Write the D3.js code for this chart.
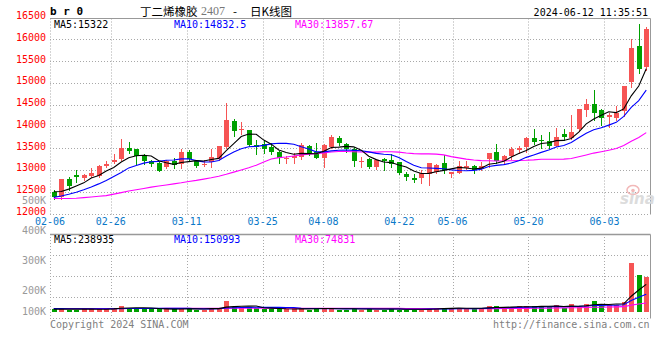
<!DOCTYPE html>
<html><head><meta charset="utf-8">
<script src="https://cdn.jsdelivr.net/npm/d3@7"></script>
<style>body{margin:0;background:#fff}svg{display:block}</style>
</head><body>
<svg id="c" width="660" height="360"></svg>
<script>
// ---------- data ----------
const dates = ["02-06","02-07","02-08","02-19","02-20","02-21","02-22","02-23","02-26","02-27","02-28","02-29",
"03-01","03-04","03-05","03-06","03-07","03-08","03-11","03-12","03-13","03-14","03-15","03-18","03-19","03-20","03-21","03-22","03-25","03-26","03-27","03-28","03-29",
"04-01","04-02","04-03","04-08","04-09","04-10","04-11","04-12","04-15","04-16","04-17","04-18","04-19","04-22","04-23","04-24","04-25","04-26","04-29","04-30",
"05-06","05-07","05-08","05-09","05-10","05-13","05-14","05-15","05-16","05-17","05-20","05-21","05-22","05-23","05-24","05-27","05-28","05-29","05-30","05-31",
"06-03","06-04","06-05","06-06","06-07","06-11","06-12"];
const open = [12485,12377,12792,12892,12815,12869,12869,13084,13177,13254,13507,13484,13315,13200,13161,13069,13200,13146,13423,13200,
13123,13177,13254,13530,14123,13930,13907,13580,13590,13535,13420,13270,13268,13300,13550,13420,13268,13520,13728,13592,
13477,13185,13246,13061,13246,13230,13184,12908,12808,12823,12908,12961,13160,12915,12935,13055,13090,13020,13250,13412,
13195,13310,13462,13520,13738,13696,13658,13559,13833,13734,13940,14382,14512,14382,14215,14192,14359,15030,15845,15373];
const high = [12546,12800,12838,13008,12900,13046,13123,13200,13369,13700,13646,13484,13369,13238,13177,13238,13276,13484,13469,13223,
13238,13484,13561,14546,14176,14107,13907,13690,13660,13612,13425,13310,13380,13610,13575,13615,13600,13805,13780,13615,
13538,13307,13269,13246,13269,13361,13192,12961,12908,13000,13169,13138,13345,12960,13212,13215,13112,13190,13395,13600,
13345,13538,13550,13752,13936,13811,13864,13963,13940,14253,14400,14634,14839,14397,14306,14474,14938,15998,16348,16287];
const low = [12331,12331,12546,12715,12780,12838,12838,13069,13161,13238,13392,13146,13146,13084,12969,13046,13046,13038,13200,13069,
13100,13069,13238,13510,13777,13815,13546,13358,13390,13365,13167,13167,13167,13250,13345,13267,13060,13500,13575,13423,
13100,13077,13038,13031,13000,13077,12908,12769,12731,12708,12654,12938,12930,12845,12921,13030,12925,13005,13075,13170,
13165,13240,13395,13420,13588,13506,13506,13544,13681,13711,13887,14230,14154,14039,13986,14138,14245,14915,15236,15297];
const close = [12377,12792,12623,12831,12892,12931,13084,13146,13238,13507,13430,13315,13200,13146,12969,13200,13123,13415,13254,13084,
13146,13300,13546,14146,13892,13946,13584,13520,13490,13420,13285,13285,13330,13580,13390,13268,13580,13750,13628,13477,
13215,13200,13061,13230,13215,13138,12923,12831,12775,12923,13154,13115,12990,12945,13085,13090,13000,13085,13390,13195,
13325,13478,13508,13730,13652,13666,13559,13757,13757,13872,14397,14512,14306,14192,14268,14306,14938,15807,15312,16226];
const ma5 = [12500,12505,12560,12630,12703,12814,12872,12977,13058,13181,13281,13327,13338,13320,13212,13166,13128,13171,13192,13215,
13204,13240,13266,13444,13606,13766,13823,13818,13686,13592,13460,13400,13362,13380,13374,13371,13430,13514,13523,13541,
13530,13454,13316,13237,13184,13169,13113,13067,12976,12918,12921,12960,12991,13025,13058,13045,13022,13041,13130,13152,
13199,13295,13379,13447,13539,13607,13623,13673,13678,13722,13868,14059,14169,14256,14335,14317,14402,14702,14926,15322];
const ma10 = [12370,12400,12440,12490,12545,12610,12680,12760,12850,12942,13047,13100,13157,13189,13197,13224,13227,13254,13256,13214,
13185,13184,13218,13318,13411,13485,13531,13542,13565,13599,13613,13611,13590,13533,13483,13415,13415,13438,13452,13457,
13450,13442,13415,13380,13362,13349,13284,13192,13107,13051,13045,13037,13029,13001,12988,12983,12991,13016,13078,13105,
13122,13158,13210,13289,13345,13403,13459,13526,13563,13630,13738,13841,13921,13967,14029,14093,14231,14436,14591,14832.5];
const ma30 = [12346,12346,12346,12350,12365,12380,12395,12410,12445,12480,12515,12545,12575,12605,12630,12655,12680,12705,12735,12760,
12790,12820,12855,12900,12950,13000,13050,13110,13180,13252,13282,13298,13322,13347,13363,13375,13391,13411,13424,13423,
13416,13412,13408,13410,13419,13417,13410,13390,13375,13369,13369,13363,13345,13305,13278,13249,13230,13215,13212,13204,
13206,13212,13218,13223,13232,13245,13244,13245,13249,13262,13302,13345,13387,13419,13454,13493,13560,13659,13744,13857.67];
const volume = [21000,29000,17000,17000,21000,21000,21000,21000,33000,46000,33000,33000,21000,21000,21000,21000,21000,29000,29000,17000,
17000,35000,29000,95000,40000,35000,37000,35000,21000,21000,21000,21000,29000,28000,17000,28000,28000,28000,17000,17000,
28000,17000,28000,17000,17000,28000,17000,17000,17000,17000,33000,28000,33000,28000,28000,28000,28000,28000,46000,46000,
33000,40000,46000,46000,46000,46000,46000,53000,28000,62000,42000,70000,92000,52000,55000,60000,80000,425000,325000,305000];
const volMa5 = [21000,21000,21000,21000,21000,21000,19400,20200,23400,28400,30800,33200,33200,30800,25800,23400,21000,22600,24200,23400,
22600,25400,25400,38600,43200,46800,47200,48400,33600,29800,27000,23800,22600,24000,23200,24600,26000,25800,23600,23600,
23600,21400,21400,21400,21400,21400,21400,19200,19200,19200,20200,22400,25600,27800,30000,29000,29000,28000,31600,35200,
36200,38600,42200,42200,42200,44800,46000,47400,43800,47000,46200,51000,58800,63600,62200,65800,67800,134400,189000,238935];
const volMa10 = [25000,25000,24000,24000,24000,24000,24000,24000,24000,24700,25900,26300,26700,27100,27100,27100,27100,27900,27500,24600,
23000,23200,24000,31400,33300,34700,36300,36900,36100,36500,36900,35500,35500,28800,26500,25800,24900,24200,23800,23400,
24100,23700,23600,22500,22500,22500,21400,20300,20300,20300,20800,21900,22400,23500,24600,24600,25700,26800,29700,32600,
32600,33800,35100,36900,38700,40500,42300,44800,43000,44600,45500,48500,53100,53700,54600,56000,59400,96600,126300,150993];
const volMa30 = [27000,27000,27000,27000,27000,27000,27000,27000,27000,27000,27000,27000,27000,27000,27000,27500,27500,27500,27500,27500,
27500,27800,28000,28500,28500,28600,28600,28600,28600,28600,28600,28500,28500,28400,28400,28400,28300,28300,28200,28200,
28000,27900,27800,27600,27500,27400,27200,27000,26900,26700,26600,26500,26300,26200,26000,25900,25700,25600,25500,25400,
25800,26400,27100,27800,28500,29200,30000,30800,31500,32500,33000,34700,36900,38000,39300,40400,42500,56100,66300,74831];
const priceTicks = [12000,12500,13000,13500,14000,14500,15000,15500,16000,16500];
const dateTicks = ["02-06","02-26","03-11","03-25","04-08","04-22","05-06","05-20","06-03"];
const volTicks = [500000,400000,300000,200000,100000];
const volGridSteps = [1,2,3];

// ---------- layout ----------
const L = 50, R = 650, T = 17.5, B = 213.5;
const VT = 234, VB = 318, VBASE = 311.5;
const UP = "#f65454", DOWN = "#00a000";
const MONO = "DejaVu Sans Mono";
const GRID = "#a8a8a8";
const svg = d3.select("#c");
const crisp = v => Math.round(v) + 0.5;

const x = d3.scaleBand().domain(dates).range([L, R]).paddingInner(0.33).paddingOuter(0.165);
const xGrid = d3.scaleLinear().domain([0, dates.length - 1]).range([L, R]);
const yP = d3.scaleLinear().domain([12000, 16500]).range([B, T]);
const yV = d3.scaleLinear().domain([0, 500000]).range([VBASE, VBASE - 500000 / 8800]);
const yVLabel = d3.scaleLinear().domain([100000, 500000]).range([320, 200]);
const yVGrid = d3.scaleLinear().domain([0, 4]).range([VB, VT]);
const cx = i => Math.round(x(dates[i]) + x.bandwidth() / 2);
const isUp = i => close[i] >= open[i];

// ---------- grid ----------
const gGrid = svg.append("g").attr("stroke", GRID).attr("stroke-dasharray", "1,2").attr("fill", "none");
priceTicks.filter(p => p > 12000 && p < 16500).forEach(p => {
  gGrid.append("line").attr("x1", L).attr("x2", R).attr("y1", crisp(yP(p))).attr("y2", crisp(yP(p)));
});
dateTicks.forEach(d => {
  const gx = crisp(xGrid(dates.indexOf(d)));
  gGrid.append("line").attr("x1", gx).attr("x2", gx).attr("y1", crisp(T)).attr("y2", crisp(B));
  gGrid.append("line").attr("x1", gx).attr("x2", gx).attr("y1", VT).attr("y2", VB);
});
volGridSteps.forEach(s => {
  gGrid.append("line").attr("x1", L).attr("x2", R).attr("y1", crisp(yVGrid(s))).attr("y2", crisp(yVGrid(s)));
});
gGrid.append("line").attr("x1", L).attr("x2", R).attr("y1", crisp(B)).attr("y2", crisp(B));
gGrid.append("line").attr("x1", L).attr("x2", R).attr("y1", crisp(VB)).attr("y2", crisp(VB));

const gB = svg.append("g").attr("stroke", "#999").attr("fill", "none");
gB.append("line").attr("x1", L).attr("x2", R + 0.5).attr("y1", crisp(T)).attr("y2", crisp(T));
gB.append("line").attr("x1", crisp(R)).attr("x2", crisp(R)).attr("y1", crisp(T)).attr("y2", crisp(B));
gB.append("line").attr("x1", L).attr("x2", R + 0.5).attr("y1", crisp(VT)).attr("y2", crisp(VT)).attr("stroke-width", 1.5);
gB.append("line").attr("x1", crisp(R)).attr("x2", crisp(R)).attr("y1", crisp(VT)).attr("y2", crisp(VB));

// watermark
const wm = svg.append("g");
wm.append("ellipse").attr("cx", 633).attr("cy", 190).attr("rx", 6).attr("ry", 4.5)
  .attr("fill", "none").attr("stroke", "#f2b8b8").attr("stroke-width", 1.5);
wm.append("circle").attr("cx", 633).attr("cy", 190.5).attr("r", 1.8).attr("fill", "#f2b8b8");
wm.append("text").attr("x", 620).attr("y", 204).attr("font-family", "DejaVu Sans").attr("font-style", "italic")
  .attr("font-weight", "bold").attr("font-size", 15).attr("fill", "#dcdcdc").text("sina");

// ---------- candles ----------
svg.append("clipPath").attr("id", "clipMain").append("rect").attr("x", L + 0.5).attr("y", T).attr("width", R - L - 0.5).attr("height", B - T);
const gC = svg.append("g").attr("clip-path", "url(#clipMain)");
dates.forEach((d, i) => {
  const col = isUp(i) ? UP : DOWN;
  const c = cx(i);
  gC.append("line").attr("x1", c + 0.5).attr("x2", c + 0.5)
    .attr("y1", Math.round(yP(high[i]))).attr("y2", Math.round(yP(low[i])) + 1)
    .attr("stroke", col).attr("stroke-width", 1);
  const yTop = Math.round(yP(Math.max(open[i], close[i])));
  const yBot = Math.round(yP(Math.min(open[i], close[i])));
  gC.append("rect").attr("x", c - 2).attr("width", 5).attr("y", yTop).attr("height", Math.max(1, yBot - yTop))
    .attr("fill", col);
});
const lineP = arr => d3.line().x((v, i) => x(dates[i]) + x.bandwidth() / 2).y(v => yP(v))(arr);
[[ma30, "#ff00ff"], [ma10, "#0000ff"], [ma5, "#000000"]].forEach(([arr, col]) => {
  gC.append("path").attr("d", lineP(arr)).attr("fill", "none").attr("stroke", col).attr("stroke-width", 1.1);
});

// ---------- volume ----------
const gV = svg.append("g");
dates.forEach((d, i) => {
  const c = cx(i);
  const yt = Math.round(yV(volume[i]));
  gV.append("rect").attr("x", c - 2).attr("width", 5).attr("y", yt).attr("height", Math.max(1, Math.round(VBASE) - yt))
    .attr("fill", isUp(i) ? UP : DOWN);
});
const lineV = arr => d3.line().x((v, i) => x(dates[i]) + x.bandwidth() / 2).y(v => yV(v))(arr);
[[volMa30, "#ff00ff"], [volMa10, "#0000ff"], [volMa5, "#000000"]].forEach(([arr, col]) => {
  gV.append("path").attr("d", lineV(arr)).attr("fill", "none").attr("stroke", col).attr("stroke-width", 1.1);
});

// ---------- texts ----------
const txt = (xx, yy, s, opt = {}) => svg.append("text").attr("x", xx).attr("y", yy)
  .attr("font-family", opt.family || MONO).attr("font-size", opt.size || 10)
  .attr("fill", opt.fill || "#000").attr("text-anchor", opt.anchor || "start")
  .attr("font-weight", opt.weight || "normal").attr("dominant-baseline", "central").text(s);

priceTicks.forEach(p => txt(46, yP(p) - 2, String(p), {fill: "#ff0000", anchor: "end"}));
volTicks.forEach(v => txt(46, Math.min(yVLabel(v), 311), (v / 1000) + "K", {fill: "#999", anchor: "end"}));
dateTicks.forEach(d => txt(xGrid(dates.indexOf(d)), 221, d, {fill: "#0a78c8", anchor: "middle"}));

const last = dates.length - 1;
txt(54, 24, "MA5:" + ma5[last], {fill: "#000"});
txt(174, 24, "MA10:" + ma10[last], {fill: "#0000ff"});
txt(295, 24, "MA30:" + ma30[last], {fill: "#ff00ff"});
txt(54, 239.5, "MA5:" + volMa5[last], {fill: "#000"});
txt(174, 239.5, "MA10:" + volMa10[last], {fill: "#0000ff"});
txt(295, 239.5, "MA30:" + volMa30[last], {fill: "#ff00ff"});

txt(50, 11, "b r 0", {size: 11, weight: "bold"});
const CJK = "Noto Sans CJK SC";
txt(140, 10.5, "丁二烯橡胶", {family: CJK, size: 11.5});
txt(201, 10.5, "2407", {family: "Liberation Serif", size: 12, fill: "#777"});
txt(233, 10.5, "-", {family: CJK, size: 11.5});
txt(250, 10.5, "日K线图", {family: CJK, size: 11.5});
txt(648, 12, "2024-06-12 11:35:51", {anchor: "end"});

txt(50, 324, "Copyright 2024 SINA.COM", {fill: "#808080"});
txt(649.5, 324, "http://finance.sina.com.cn", {fill: "#808080", anchor: "end"});
</script>
</body></html>
